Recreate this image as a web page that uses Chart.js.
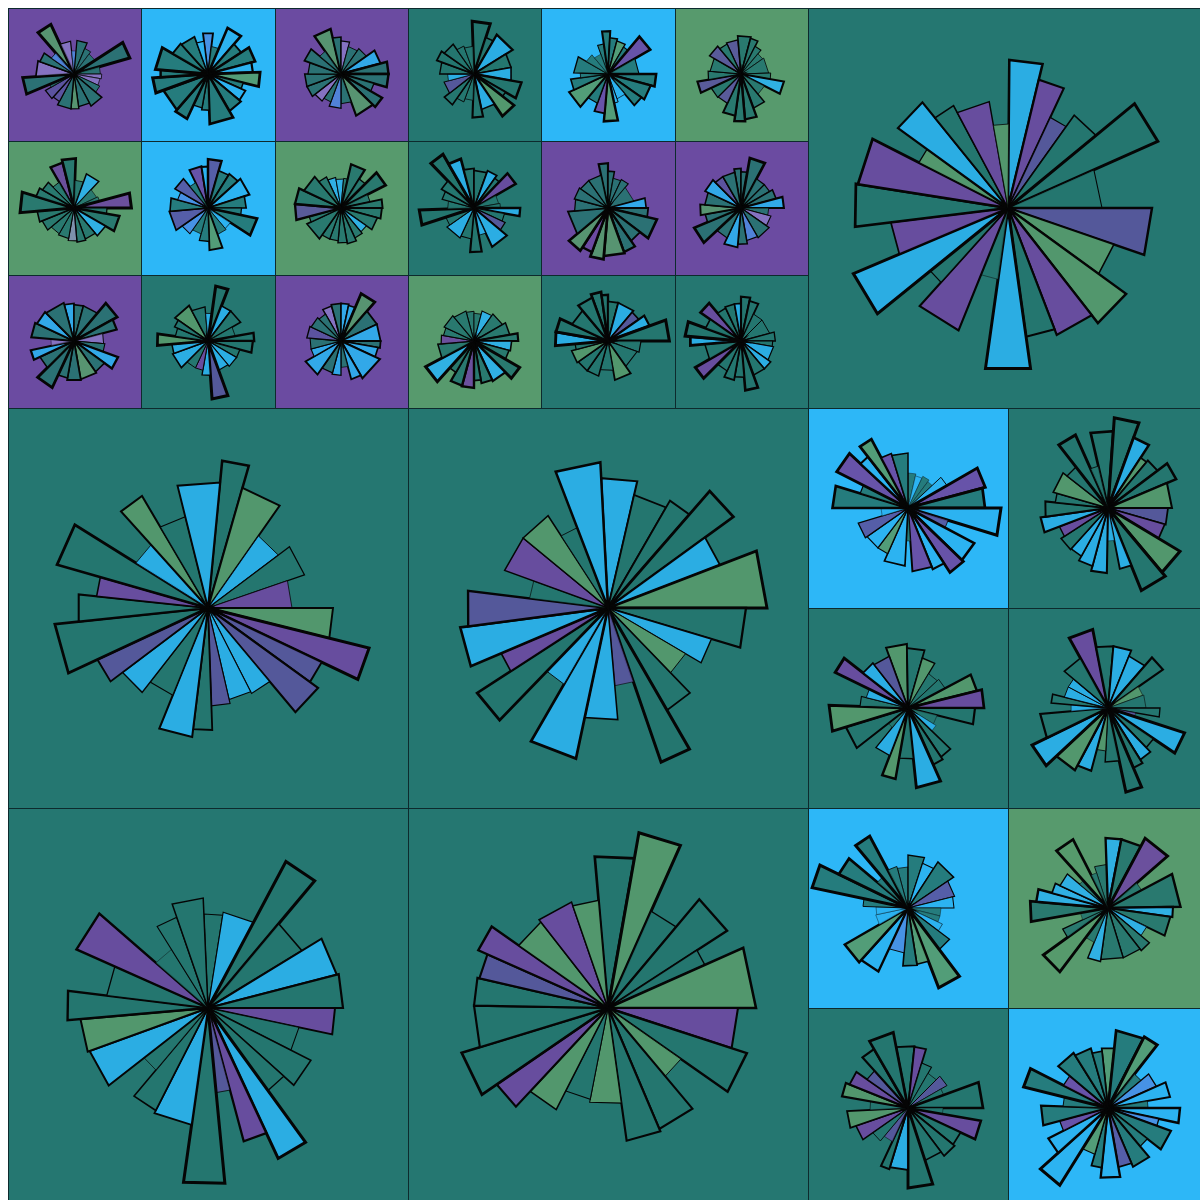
<!DOCTYPE html>
<html>
<head>
<meta charset="utf-8">
<title>Rose grid</title>
<script src="https://cdn.jsdelivr.net/npm/chart.js@4.4.1/dist/chart.umd.min.js"></script>
<style>
  html, body { margin: 0; padding: 0; overflow: hidden; background: #ffffff; }
  #board { position: absolute; left: 8px; top: 8px; width: 1200px; height: 1200px; }
  .cell { position: absolute; box-shadow: inset 1px 1px 0 #0d2a2d; }
  .cell canvas { position: absolute; left: 0; top: 0; }
</style>
</head>
<body>
<div id="board"></div>
<script>
/* ---- big roses ---- */
const topRightValues = [74, 66, 50, 57, 82, 47, 72, 56, 73, 68, 65, 81, 36, 66, 50, 84, 59, 77, 76, 50, 68, 58, 54, 42];
const topRightAngles = [13, 11.5, 10.5, 15, 15.5, 24, 19, 17, 16, 17, 13, 16, 14, 20, 9, 16, 16, 16, 18, 9, 15, 11, 18, 10.5];

const midLeftValues = [74, 62.5, 44, 51, 42, 62.5, 83, 63, 68, 48, 47, 49, 61, 65, 47, 53.5, 61, 77, 65, 56, 78.5, 42.5, 65, 47, 63];
const midLeftAngles = [10.5, 19, 18, 18, 19, 14, 11.5, 10.5, 14, 13, 14, 11, 9, 15, 16, 15, 12, 19, 12, 10, 16, 16, 11.5, 16.5, 19.5];

const midCenterValues = [65, 58, 62, 77.5, 60, 79.5, 69, 54, 45, 59, 81.5, 39, 56, 77, 44, 78, 58, 74.5, 70.5, 39.5, 55, 55, 43, 73];
const midCenterAngles = [16, 17, 11, 13, 15, 21, 16.7, 13.8, 15.5, 14, 11, 14, 17, 18, 14, 13, 10, 15.5, 14.5, 13, 19.5, 17.5, 12, 18];

const botLeftValues = [47, 48.5, 83, 55, 66.5, 67.5, 63.5, 46.5, 57.7, 51, 83, 69, 42.5, 88, 59, 57.5, 40.5, 63, 64, 70.5, 51, 72, 34.5, 48, 55];
const botLeftAngles = [11.5, 19, 12, 18.6, 16.9, 14.5, 12, 15, 15, 12, 11, 10, 9.5, 13.5, 19, 13, 12, 18, 15, 12, 17, 17, 17, 13, 16.5];

const botCenterValues = [76, 89, 53, 71, 53, 74, 65, 73, 44.5, 65.7, 67, 48, 46.5, 57, 67.5, 76.5, 67, 67, 66, 71, 54.5, 56, 54];
const botCenterAngles = [15, 14, 16, 17, 9, 24, 18, 17, 15, 17, 15, 19, 16, 16, 12.5, 17.5, 18, 12, 11, 11, 17, 19, 14];

/* ---- medium roses (2x2 blocks) ---- */
const med1Values = [35, 33, 35, 33, 45, 80, 77, 93, 42, 75, 77, 66, 63.5, 33, 58, 50, 50, 52, 27, 75.5, 50, 80, 65, 78, 57, 55];
const med1Angles = [13, 12, 12, 10, 13, 15, 15, 17, 11, 16, 13, 11, 18, 7, 21, 13, 18, 18, 17, 17, 10, 16, 9, 10, 11, 17];
const med2Values = [77, 90.5, 75, 60, 62, 74, 64, 60, 59, 84, 89, 62, 33, 65, 60, 55, 56, 52, 68, 63, 53, 57, 52, 80, 43];
const med2Angles = [17, 16, 13, 7, 13, 14, 23, 16, 15, 19, 18, 11, 12, 14, 14, 13, 15, 12, 13, 14, 10, 22, 14, 14, 11];
const med3Values = [64, 60, 52, 40, 42, 71, 76, 67, 30, 33, 59, 62, 80, 51, 72, 51, 25, 65, 79, 48, 43, 81, 57, 55];
const med3Angles = [19, 17, 15, 16, 15, 14, 14, 14, 18, 12, 12, 10, 18, 16, 11, 18, 13, 21, 19, 12, 12, 12, 14, 18];
const med4Values = [80, 62, 62, 56, 67, 37, 38, 52, 28, 80.5, 55, 61, 65, 86, 54, 43, 65, 70.5, 84.5, 68, 37, 57, 45, 45, 57];
const med4Angles = [18, 16, 17, 19, 14, 15, 20, 10, 8, 16, 12, 12, 9, 11, 15, 12, 13, 19, 17, 21, 10, 9, 14, 12, 21];
const med5Values = [41, 53, 47, 55, 48, 46, 33, 33, 38, 52, 85.5, 57, 58, 45, 70, 73, 33, 32, 45, 98, 77, 40, 81.5, 43];
const med5Angles = [15, 18, 15, 23, 20, 14, 14, 11, 12, 16, 16, 12, 14, 20, 17, 18, 18, 14, 10, 14, 14, 10, 12, 13];
const med6Values = [43.5, 70, 70, 79, 38, 72.5, 65, 63, 43, 54, 52, 52, 54, 37, 80, 50, 28, 78, 72, 58, 53, 37, 77, 37];
const med6Angles = [16, 13, 17, 21, 13, 27, 9, 18, 14, 12, 21, 25, 14, 15, 17, 11, 15, 15, 10, 10, 15, 8, 15, 9];
const med7Values = [62, 61.5, 47, 40, 45, 38, 75, 35, 74, 58, 60, 55, 80, 62, 64, 37, 43, 55, 61, 38, 67, 63, 50, 68, 77];
const med7Angles = [17, 11, 13, 15, 15, 10, 20, 10, 15, 14, 14, 19, 18, 17, 8, 15, 15, 16, 16, 13, 12, 13, 13, 12, 19];
const med8Values = [60, 78, 80, 43, 53, 63, 40, 72, 52, 67, 50, 64, 60, 70, 60, 48, 91, 67, 50, 67, 45, 87, 50, 65, 62, 57];
const med8Angles = [12, 21, 11, 12, 16, 14, 10, 12, 8, 18, 12, 17, 13, 16, 10, 16, 16, 15, 12, 17, 12, 13, 13, 18, 16, 10];

/* ---- small roses (two 3x3 blocks) ---- */
const smA_values = [83, 50, 35, 51, 42, 38, 88, 40, 42, 40, 43, 55, 50, 53, 53, 47, 50, 40, 78, 58, 55, 42];
const smA_angles = [16, 19, 11, 18, 14, 20, 17, 16, 10, 15, 15, 22, 20, 13, 23, 14, 18, 7, 19, 24, 15, 14];
const smB_values = [62, 42, 76, 60, 74, 68, 79, 55, 62, 65, 76, 55, 52, 75, 72, 84, 72, 80, 62, 60, 50];
const smB_angles = [14, 16, 18, 16, 18, 13, 16, 10, 16, 20, 28, 12, 15, 16, 29, 16, 9, 25, 18, 22, 13];
const smC_values = [70, 56, 50, 43, 47, 62, 72, 72, 52, 72, 67, 45, 52, 45, 50, 55, 55, 50, 59, 42];
const smC_angles = [22, 13, 15, 20, 20, 20, 15, 16, 14, 14, 26, 20, 20, 15, 17, 18, 20, 20, 20, 15];
const smD_values = [71, 75, 42, 55, 38, 40, 87, 50, 70, 55, 50, 52, 50, 47, 45, 52, 56, 82, 60, 55, 45];
const smD_angles = [16, 16, 18, 23, 22, 10, 15, 10, 20, 20, 20, 15, 15, 20, 20, 18, 17, 22, 13, 15, 15];
const smE_values = [63, 62, 73, 58, 60, 65, 57, 50, 75, 40, 42, 63, 50, 40, 47, 58, 57, 47, 57, 42];
const smE_angles = [17, 9, 16, 16, 16, 24, 18, 12, 21, 17, 20, 18, 17, 20, 20, 30, 20, 15, 20, 14];
const smF_values = [47, 44, 45, 68, 52, 76, 45, 63, 62, 57, 47, 50, 55, 53, 50, 50, 57, 50, 70, 70, 62, 52];
const smF_angles = [15, 15, 8, 19, 13, 18, 15, 12, 15, 20, 15, 15, 15, 15, 15, 15, 30, 10, 20, 20, 25, 15];
const smG_values = [57, 55, 55, 75, 67, 45, 47, 71, 57, 59, 60, 57, 78, 57, 67, 35, 65, 62, 60];
const smG_angles = [15, 15, 25, 21, 14, 20, 15, 16, 19, 25, 20, 15, 20, 20, 13, 17, 20, 20, 30];
const smH_values = [61, 52, 42, 84, 57, 57, 42, 70, 68, 50, 50, 47, 88, 52, 45, 45, 57, 55, 77, 50, 55];
const smH_angles = [27, 23, 13, 13, 16, 23, 20, 10, 15, 15, 20, 20, 16, 14, 15, 20, 25, 15, 13, 15, 12];
const smI_values = [55, 57, 57, 55, 78, 60, 60, 60, 57, 65, 60, 40, 52, 50, 62, 47, 47, 52, 50, 47];
const smI_angles = [15, 15, 12, 11, 18, 24, 25, 10, 15, 35, 15, 15, 15, 20, 25, 15, 20, 20, 20, 15];
const smJ_values = [80, 58, 69, 57, 57, 73, 55, 77, 55, 66, 40, 45, 57, 47, 40, 52, 60, 55, 45, 42];
const smJ_angles = [20, 12, 28, 22, 20, 20, 8, 18, 22, 14, 18, 15, 17, 23, 15, 20, 15, 20, 15, 18];
const smK_values = [46, 65, 55, 52, 47, 74, 47, 73, 67, 62, 40, 45, 72, 60, 47, 65, 57, 42, 52, 38, 32];
const smK_angles = [12, 11, 12, 15, 10, 20, 30, 15, 20, 15, 20, 8, 17, 15, 20, 25, 17, 10, 28, 20, 20];
const smL_values = [52, 58, 56, 47, 40, 42, 45, 66, 40, 55, 69, 72, 64, 49, 50, 67, 50, 47, 55, 50];
const smL_angles = [20, 20, 12, 13, 15, 33, 12, 17, 23, 20, 15, 13, 17, 20, 20, 15, 15, 25, 20, 15];
const smM_values = [94, 77, 60, 57, 60, 55, 73, 38, 40, 70, 47, 52, 65, 42, 67, 47, 50, 45, 83, 40, 50, 57];
const smM_angles = [14, 15, 15, 20, 15, 9, 16, 20, 10, 10, 15, 15, 25, 15, 15, 20, 30, 17, 16, 17, 15, 16];
const smN_values = [67, 55, 45, 47, 40, 57, 60, 75, 60, 70, 72, 77, 70, 76, 60, 50, 52, 50, 50];
const smN_angles = [12, 10, 15, 15, 35, 15, 13, 24, 18, 15, 25, 15, 13, 17, 35, 20, 20, 20, 23];
const smO_values = [60, 55, 77, 50, 50, 55, 65, 42, 47, 52, 50, 55, 60, 50, 77, 55, 62, 55, 60, 55, 55];
const smO_angles = [10, 10, 18, 17, 15, 15, 15, 15, 20, 25, 20, 15, 20, 22, 20, 13, 15, 20, 20, 15, 20];
const smP_values = [45, 42, 47, 50, 55, 67, 57, 55, 80, 67, 65, 60, 71, 70, 55, 83, 55, 50, 47, 50, 47];
const smP_angles = [15, 15, 20, 25, 20, 10, 15, 15, 15, 20, 15, 10, 15, 15, 12, 20, 23, 15, 15, 25, 25];
const smQ_values = [75, 70, 60, 60, 57, 67, 93, 50, 47, 60, 45, 55, 55, 57, 50, 80, 80, 60, 70];
const smQ_angles = [12, 8, 15, 25, 15, 15, 20, 20, 35, 25, 25, 20, 20, 20, 10, 15, 15, 25, 20];
const smR_values = [75, 55, 57, 57, 67, 62, 45, 45, 52, 48, 50, 55, 55, 75, 55, 60, 50, 80, 55, 77, 85, 57];
const smR_angles = [15, 15, 15, 10, 12, 13, 20, 30, 15, 10, 25, 15, 20, 15, 15, 15, 20, 15, 25, 10, 15, 15];

// fill codes per slice: T teal, P purple, S slate, B sky blue, G green, U mid blue, L lavender
const FILL = {
    T: 'rgba(37, 118, 111, 0.9)',
    P: 'rgba(108, 74, 162, 0.92)',
    S: 'rgba(90, 84, 158, 0.9)',
    B: 'rgba(44, 178, 240, 0.9)',
    G: 'rgba(86, 154, 108, 0.92)',
    U: 'rgba(76, 140, 226, 0.85)',
    L: 'rgba(150, 140, 215, 0.6)'
};
const BG = { teal: '#257771', purple: '#6b4ba1', blue: '#2db7f7', green: '#579a6d' };

function smallSlot(ox, oy, col, row) {
    const x0 = Math.round(col * 400 / 3), x1 = Math.round((col + 1) * 400 / 3);
    const y0 = Math.round(row * 400 / 3), y1 = Math.round((row + 1) * 400 / 3);
    return { x: ox + x0, y: oy + y0, w: x1 - x0, h: y1 - y0 };
}

const roses = [
    { slot: { x: 800, y: 0, w: 400, h: 400 }, bg: 'teal', start: 0.5, values: topRightValues, angles: topRightAngles, fills: 'BPSTTTSGGPTBTPTBPTPGBTPG' },
    { slot: { x: 0, y: 400, w: 400, h: 400 }, bg: 'teal', start: 5.5, values: midLeftValues, angles: midLeftAngles, fills: 'TGBTPGPSSBBSTBTBSTTPTBGTB' },
    { slot: { x: 400, y: 400, w: 400, h: 400 }, bg: 'teal', start: -3, values: midCenterValues, angles: midCenterAngles, fills: 'BTTTBGTBGTTSBBBTPBSTPGTB' },
    { slot: { x: 0, y: 800, w: 400, h: 400 }, bg: 'teal', start: -2.5, values: botLeftValues, angles: botLeftAngles, fills: 'TBTTBTPTTTBPSTBTTBGTTPTTT' },
    { slot: { x: 400, y: 800, w: 400, h: 400 }, bg: 'teal', start: -5, values: botCenterValues, angles: botCenterAngles, fills: 'TGTTTGPTGTTGTGPTTTSPGPG' },

    { slot: { x: 800, y: 400, w: 200, h: 200 }, bg: 'blue', start: 0, values: med1Values, angles: med1Angles, fills: 'TBTTBPTBSBPBPTBGBSBTTPBGPT' },
    { slot: { x: 1000, y: 400, w: 200, h: 200 }, bg: 'teal', start: -13, values: med2Values, angles: med2Angles, fills: 'TTBGTTGSPGTBBBBBTPBTTGTTT' },
    { slot: { x: 800, y: 600, w: 200, h: 200 }, bg: 'teal', start: -20, values: med3Values, angles: med3Angles, fills: 'GTGTTGPTTBTTBTGBTTGTBPBS' },
    { slot: { x: 1000, y: 600, w: 200, h: 200 }, bg: 'teal', start: -29, values: med4Values, angles: med4Angles, fills: 'PTBBTGTTSBTBTTTGBGBTBTBBT' },
    { slot: { x: 800, y: 800, w: 200, h: 200 }, bg: 'blue', start: -15, values: med5Values, angles: med5Angles, fills: 'TTBTSBTTBTGGTUBGBBTTTTTT' },
    { slot: { x: 1000, y: 800, w: 200, h: 200 }, bg: 'green', start: -18, values: med6Values, angles: med6Angles, fills: 'TBTPTTBTBTTTBTGTTTBBBTGT' },
    { slot: { x: 800, y: 1000, w: 200, h: 200 }, bg: 'teal', start: -11, values: med7Values, angles: med7Angles, fills: 'TPTTSTTTPTTTTBTSTPGTGPSTT' },
    { slot: { x: 1000, y: 1000, w: 200, h: 200 }, bg: 'blue', start: -6, values: med8Values, angles: med8Angles, fills: 'GTGTUBTBUTTTSBTGBBPTTTPTTT' },

    { slot: smallSlot(0, 0, 0, 0), bg: 'purple', start: -41, values: smA_values, angles: smA_angles, fills: 'GLUTTTTTLLTTTGTSSTTLTU' },
    { slot: smallSlot(0, 0, 1, 0), bg: 'blue', start: -7, values: smB_values, angles: smB_angles, fills: 'UTBTTBGTBTTTTTTTTTTTB' },
    { slot: smallSlot(0, 0, 2, 0), bg: 'purple', start: -35, values: smC_values, angles: smC_angles, fills: 'GTLTTBTTTTGTUTLTTTTT' },
    { slot: smallSlot(0, 0, 0, 1), bg: 'green', start: -30, values: smD_values, angles: smD_angles, fills: 'PTTBTTPTTBTTLTTTTTTTT' },
    { slot: smallSlot(0, 0, 1, 1), bg: 'blue', start: -26, values: smE_values, angles: smE_angles, fills: 'PBSTTBTTTBTGTTUSTUST' },
    { slot: smallSlot(0, 0, 2, 1), bg: 'green', start: -25, values: smF_values, angles: smF_angles, fills: 'BBTTTTTTTTBTTTTTTTSTTT' },
    { slot: smallSlot(0, 0, 0, 2), bg: 'purple', start: -15, values: smG_values, angles: smG_angles, fills: 'BTTTTLTBTGTTTTBLTBT' },
    { slot: smallSlot(0, 0, 1, 2), bg: 'teal', start: -55, values: smH_values, angles: smH_angles, fills: 'GTBTBTTTTTBBSBPTBBGTT' },
    { slot: smallSlot(0, 0, 2, 2), bg: 'purple', start: -30, values: smI_values, angles: smI_angles, fills: 'LTBBGTBTBBBTBTBBTSTT' },
    { slot: smallSlot(400, 0, 0, 0), bg: 'teal', start: -2, values: smJ_values, angles: smJ_angles, fills: 'TTBTBTTGBTTTTSBTTTTT' },
    { slot: smallSlot(400, 0, 1, 0), bg: 'blue', start: -20, values: smK_values, angles: smK_angles, fills: 'TTTGTPTTTTBBGPTGTTTTT' },
    { slot: smallSlot(400, 0, 2, 0), bg: 'green', start: -25, values: smL_values, angles: smL_angles, fills: 'STTTTTTBTTTTTSTSTTST' },
    { slot: smallSlot(400, 0, 0, 1), bg: 'teal', start: -44, values: smM_values, angles: smM_angles, fills: 'TBTTBTPTTBTSBBTTBTTTTT' },
    { slot: smallSlot(400, 0, 1, 1), bg: 'purple', start: -12, values: smN_values, angles: smN_angles, fills: 'TTTTTBTTTTGGPGTTTTT' },
    { slot: smallSlot(400, 0, 2, 1), bg: 'purple', start: -10, values: smO_values, angles: smO_angles, fills: 'TTTTTTBTLTUTBTTTGTBST' },
    { slot: smallSlot(400, 0, 0, 2), bg: 'green', start: -15, values: smP_values, angles: smP_angles, fills: 'TTBTTTBTTBTTPTTBTPTTT' },
    { slot: smallSlot(400, 0, 1, 2), bg: 'teal', start: -20, values: smQ_values, angles: smQ_angles, fills: 'TTTBSBTTTGTTTGTBTTT' },
    { slot: smallSlot(400, 0, 2, 2), bg: 'teal', start: -55, values: smR_values, angles: smR_angles, fills: 'PTTBTTTTTTBBTTTTTPTBTT' }
];

// longer wedges get heavier outlines, short ones almost hairlines
function edgeWidth(value) {
    return Math.min(3, Math.max(0.4, 0.4 + (value - 35) * 0.055));
}

function drawRose(board, rose) {
    const cell = document.createElement('div');
    cell.className = 'cell';
    cell.style.left = rose.slot.x + 'px';
    cell.style.top = rose.slot.y + 'px';
    cell.style.width = rose.slot.w + 'px';
    cell.style.height = rose.slot.h + 'px';
    cell.style.background = BG[rose.bg];

    const canvas = document.createElement('canvas');
    canvas.width = rose.slot.w;
    canvas.height = rose.slot.h;
    cell.appendChild(canvas);
    board.appendChild(cell);

    new Chart(canvas, {
        type: 'polarArea',
        data: {
            labels: rose.values.map((v, i) => 'Sector ' + (i + 1)),
            datasets: [{
                data: rose.values,
                angle: rose.angles,
                backgroundColor: rose.fills.split('').map(c => FILL[c]),
                borderColor: '#050505',
                borderWidth: ctx => edgeWidth(ctx.raw),
                borderJoinStyle: 'miter',
                circular: false
            }]
        },
        options: {
            responsive: false,
            animation: false,
            events: [],
            layout: { padding: 0 },
            plugins: {
                legend: { display: false },
                tooltip: { enabled: false }
            },
            scales: {
                r: {
                    display: false,
                    min: 0,
                    max: 100,
                    startAngle: rose.start
                }
            }
        }
    });
}

document.addEventListener('DOMContentLoaded', function() {
    const board = document.getElementById('board');
    roses.forEach(rose => drawRose(board, rose));
});
</script>
</body>
</html>
